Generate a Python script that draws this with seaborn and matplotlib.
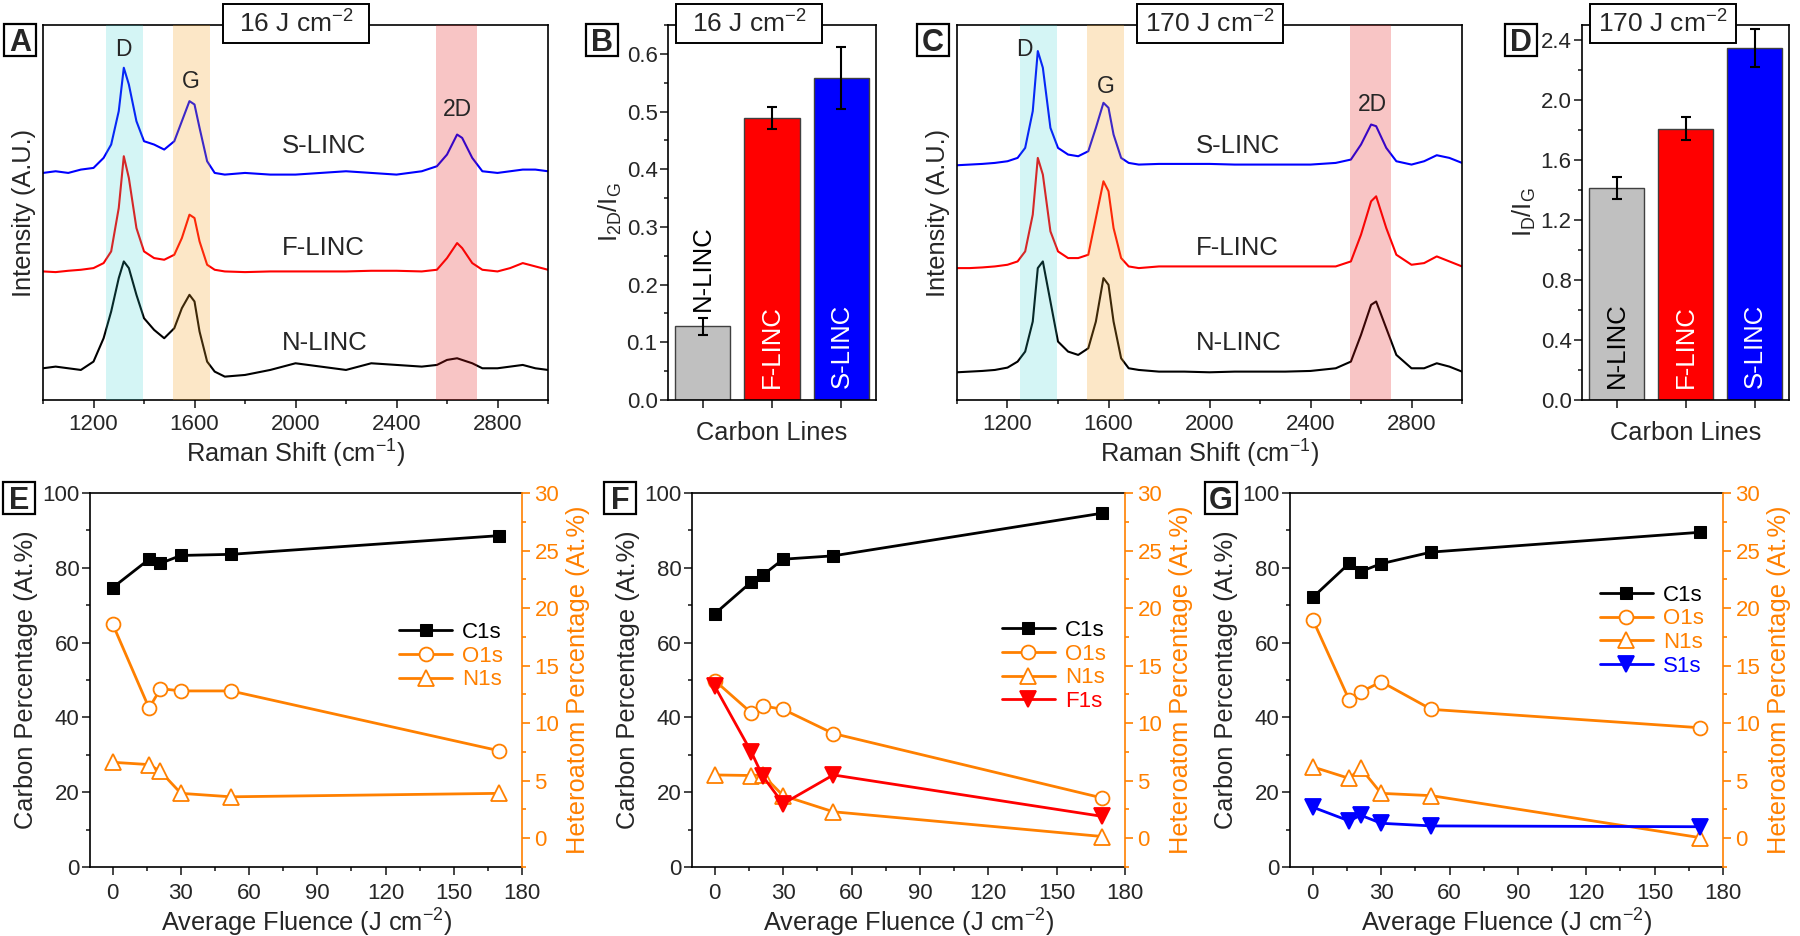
import numpy as np
import pandas as pd
import matplotlib
matplotlib.use('Agg')
import matplotlib.pyplot as plt
import seaborn as sns
from matplotlib.ticker import MultipleLocator
from matplotlib.patches import Rectangle

# Raman spectra (intensity in arbitrary units)
raman_shift = [1000, 1050, 1100, 1150, 1200, 1240, 1270, 1300, 1320, 1340, 1370, 1400, 1440, 1480,
               1520, 1550, 1580, 1600, 1620, 1650, 1680, 1720, 1800, 1900, 2000, 2100, 2200, 2300,
               2400, 2500, 2560, 2600, 2640, 2660, 2700, 2740, 2800, 2850, 2900, 2950, 3000]
a_s_linc = [680, 685, 680, 690, 695, 725, 765, 865, 995, 945, 835, 775, 765, 750, 775, 835, 895, 885,
            815, 715, 680, 675, 680, 675, 675, 680, 685, 680, 675, 685, 700, 735, 795, 785, 725, 685,
            680, 685, 690, 690, 685]
a_f_linc = [385, 383, 387, 390, 395, 410, 445, 575, 730, 665, 515, 445, 425, 420, 435, 485, 555, 545,
            475, 405, 390, 385, 383, 385, 385, 385, 385, 387, 387, 385, 390, 425, 470, 455, 410, 390,
            385, 395, 410, 400, 390]
a_n_linc = [95, 100, 95, 90, 115, 185, 265, 365, 415, 395, 315, 245, 210, 185, 215, 275, 315, 295,
            205, 115, 85, 70, 75, 90, 110, 100, 90, 110, 105, 100, 105, 120, 125, 120, 110, 95,
            95, 100, 105, 95, 90]
c_s_linc = [703, 705, 707, 710, 715, 725, 755, 865, 1045, 995, 815, 755, 735, 730, 745, 815, 890, 875,
            795, 725, 710, 705, 707, 707, 707, 705, 705, 705, 705, 710, 720, 765, 825, 820, 755, 715,
            705, 715, 733, 725, 710]
c_f_linc = [395, 395, 397, 400, 405, 415, 445, 555, 725, 675, 505, 445, 425, 425, 435, 545, 655, 625,
            515, 425, 400, 395, 400, 400, 400, 400, 400, 400, 400, 400, 415, 495, 595, 610, 515, 435,
            405, 410, 430, 415, 400]
c_n_linc = [83, 85, 87, 90, 97, 115, 145, 235, 395, 415, 295, 175, 145, 135, 155, 235, 365, 345,
            235, 125, 95, 90, 85, 85, 83, 85, 85, 85, 87, 95, 115, 195, 285, 295, 215, 135,
            95, 95, 110, 100, 85]
bands = {'D': (1250, 1395), 'G': (1515, 1660), '2D': (2558, 2718)}

# intensity ratios
carbon_lines = ['N-LINC', 'F-LINC', 'S-LINC']
i2d_ig_16 = [0.128, 0.489, 0.558]
i2d_ig_16_err = [0.015, 0.019, 0.054]
id_ig_170 = [1.415, 1.81, 2.345]
id_ig_170_err = [0.075, 0.075, 0.125]

# XPS vs fluence
fluence = [0, 16, 21, 30, 52, 170]
e_c1s = [74.7, 82.3, 81.2, 83.3, 83.6, 88.6]
e_o1s = [18.6, 11.3, 13.0, 12.8, 12.8, 7.6]
e_n1s = [6.6, 6.4, 5.8, 3.9, 3.6, 3.9]
f_c1s = [67.7, 76.2, 78.0, 82.3, 83.2, 94.6]
f_o1s = [13.7, 10.9, 11.5, 11.2, 9.1, 3.5]
f_n1s = [5.5, 5.45, 5.5, 3.7, 2.3, 0.15]
f_f1s = [13.2, 7.5, 5.4, 3.0, 5.5, 1.9]
g_c1s = [72.1, 81.2, 79.0, 81.1, 84.2, 89.5]
g_o1s = [19.0, 12.0, 12.7, 13.6, 11.2, 9.6]
g_n1s = [6.2, 5.2, 6.1, 3.9, 3.7, 0.05]
g_s1s = [2.7, 1.5, 2.0, 1.3, 1.07, 1.0]

ORANGE = '#FF8000'
W, H = 1800, 936

sns.set_theme(style='ticks')
plt.rcParams['font.family'] = ['Liberation Sans', 'DejaVu Sans']
plt.rcParams['mathtext.default'] = 'regular'
plt.rcParams['axes.linewidth'] = 1.2
for k in ['xtick.major.width', 'ytick.major.width', 'xtick.minor.width', 'ytick.minor.width']:
    plt.rcParams[k] = 1.2
plt.rcParams['xtick.major.size'] = 5.5
plt.rcParams['ytick.major.size'] = 5.5
plt.rcParams['xtick.minor.size'] = 3
plt.rcParams['ytick.minor.size'] = 3
plt.rcParams['xtick.labelsize'] = 16
plt.rcParams['ytick.labelsize'] = 16
plt.rcParams['ytick.major.pad'] = 2
plt.rcParams['axes.labelsize'] = 18.3
plt.rcParams['axes.edgecolor'] = 'black'

fig = plt.figure(figsize=(18, 9.36), dpi=100)


def px_axes(left, right, top, bottom):
    return fig.add_axes([left / W, 1 - bottom / H, (right - left) / W, (bottom - top) / H])


def px_box(x0, x1, y0, y1, lw):
    fig.add_artist(Rectangle((x0 / W, 1 - y1 / H), (x1 - x0) / W, (y1 - y0) / H,
                             transform=fig.transFigure, fc='white', ec='black', lw=lw, zorder=5))


def letter(x, y, s):
    px_box(x - 16, x + 16, y - 16, y + 16, 1.6)
    fig.text(x / W, 1 - (y + 11) / H, s, fontsize=22, fontweight='bold', ha='center',
             va='baseline', zorder=6)


def title_box(x, s):
    px_box(x - 73, x + 73, 4, 43, 1.4)
    fig.text(x / W, 1 - 33 / H, s, fontsize=19, ha='center', va='baseline', zorder=6)


def raman_panel(ax, s, f, n, label_pos):
    for vals, col in [(s, 'blue'), (f, 'red'), (n, 'black')]:
        sns.lineplot(x=raman_shift, y=vals, ax=ax, color=col, lw=1.5, errorbar=None)
    ax.axvspan(*bands['D'], color='#28CDCD', alpha=0.2, lw=0, zorder=3)
    ax.axvspan(*bands['G'], color='#F7A323', alpha=0.25, lw=0, zorder=3)
    ax.axvspan(*bands['2D'], color='#E71B1B', alpha=0.25, lw=0, zorder=3)
    for name, (x, y) in label_pos.items():
        ax.text(x, y, name, fontsize=16.5, ha='center', va='center')
    ax.text(1945, 760, 'S-LINC', fontsize=18.5, va='center')
    ax.text(1945, 455, 'F-LINC', fontsize=18.5, va='center')
    ax.text(1945, 170, 'N-LINC', fontsize=18.5, va='center')
    ax.set_xlim(1000, 3000)
    ax.set_ylim(0, 1123)
    ax.xaxis.set_major_locator(MultipleLocator(400))
    ax.xaxis.set_minor_locator(MultipleLocator(200))
    ax.set_yticks([])
    ax.tick_params(axis='x', which='both', direction='out', top=False, pad=4.5)
    ax.set_xlabel('Raman Shift (cm$^{-1}$)', labelpad=2)
    ax.set_ylabel('Intensity (A.U.)', labelpad=5)


def bar_panel(ax, vals, errs, ymax, major, ylabel, text_y):
    sns.barplot(x=carbon_lines, y=vals, hue=carbon_lines, ax=ax, legend=False,
                palette={'N-LINC': '#C0C0C0', 'F-LINC': '#FF0000', 'S-LINC': '#0000FF'},
                edgecolor='#404040', linewidth=1, width=0.8, errorbar=None, saturation=1)
    ax.errorbar(range(3), vals, yerr=errs, fmt='none', ecolor='black', elinewidth=1.5,
                capsize=3.5, capthick=1.5, zorder=5)
    for i, (name, ty) in enumerate(zip(carbon_lines, text_y)):
        col = 'black' if name == 'N-LINC' else 'white'
        ax.text(i, ty, name, rotation=90, ha='center', va='bottom', color=col, fontsize=18.5)
    ax.set_xlim(-0.5, 2.5)
    ax.set_ylim(0, ymax)
    ax.yaxis.set_major_locator(MultipleLocator(major))
    ax.yaxis.set_minor_locator(MultipleLocator(major / 2))
    ax.set_xticks([0, 1, 2])
    ax.set_xticklabels([])
    ax.tick_params(axis='x', which='minor', bottom=False)
    ax.tick_params(axis='both', direction='out')
    ax.set_xlabel('Carbon Lines', labelpad=6)
    ax.set_ylabel(ylabel, labelpad=2)


def xps_panel(ax, c1s, others, anchor):
    sns.lineplot(x=fluence, y=c1s, ax=ax, color='black', lw=2, marker='s', markersize=9,
                 markeredgecolor='black', errorbar=None)
    handles = [ax.lines[-1]]
    labels = ['C1s']
    ax2 = ax.twinx()
    for name, vals, col, mk, ms, face in others:
        sns.lineplot(x=fluence, y=vals, ax=ax2, color=col, lw=2, marker=mk, markersize=ms,
                     markerfacecolor=face, markeredgecolor=col, markeredgewidth=1.3, errorbar=None)
        handles.append(ax2.lines[-1])
        labels.append(name)
    ax.set_xlim(-10, 180)
    ax.set_ylim(0, 100)
    ax2.set_ylim(-2.5, 30)
    ax.xaxis.set_major_locator(MultipleLocator(30))
    ax.xaxis.set_minor_locator(MultipleLocator(15))
    ax.yaxis.set_major_locator(MultipleLocator(20))
    ax.yaxis.set_minor_locator(MultipleLocator(10))
    ax2.yaxis.set_minor_locator(MultipleLocator(2.5))
    ax2.set_yticks([0, 5, 10, 15, 20, 25, 30])
    ax.tick_params(axis='both', which='both', direction='out', top=False, right=False)
    ax.tick_params(axis='x', pad=6)
    ax2.tick_params(axis='y', which='both', direction='out', colors=ORANGE, pad=3.5)
    ax.spines['right'].set_visible(False)
    for sp in ['top', 'left', 'bottom']:
        ax2.spines[sp].set_visible(False)
    ax2.spines['right'].set_color(ORANGE)
    ax2.spines['right'].set_linewidth(1.2)
    ax.set_xlabel('Average Fluence (J cm$^{-2}$)', labelpad=2)
    ax.set_ylabel('Carbon Percentage (At.%)', labelpad=3)
    ax2.set_ylabel('Heteroatom Percentage (At.%)', color=ORANGE, labelpad=5)
    ax2.legend(handles, labels, loc='upper left', bbox_to_anchor=anchor, frameon=False,
               fontsize=16, handlelength=2.4, handletextpad=0.45, labelspacing=0.12,
               borderpad=0, borderaxespad=0, labelcolor='linecolor')


# Raman spectra
ax_a = px_axes(43, 548, 25, 400)
raman_panel(ax_a, a_s_linc, a_f_linc, a_n_linc, {'D': (1320, 1050), 'G': (1585, 955), '2D': (2640, 870)})
ax_c = px_axes(957, 1462, 25, 400)
raman_panel(ax_c, c_s_linc, c_f_linc, c_n_linc, {'D': (1266, 1050), 'G': (1588, 940), '2D': (2645, 885)})

# ratio bars
ax_b = px_axes(668, 876, 25, 400)
bar_panel(ax_b, i2d_ig_16, i2d_ig_16_err, 0.65, 0.1, 'I$_{2D}$/I$_G$', [0.155, 0.02, 0.02])
ax_d = px_axes(1582, 1789, 25, 400)
bar_panel(ax_d, id_ig_170, id_ig_170_err, 2.5, 0.4, 'I$_D$/I$_G$', [0.08, 0.08, 0.08])

# XPS composition
ax_e = px_axes(90, 522, 493, 867)
xps_panel(ax_e, e_c1s, [('O1s', e_o1s, ORANGE, 'o', 10, 'white'),
                        ('N1s', e_n1s, ORANGE, '^', 11, 'white')], (0.715, 0.655))
ax_f = px_axes(692, 1125, 493, 867)
xps_panel(ax_f, f_c1s, [('O1s', f_o1s, ORANGE, 'o', 10, 'white'),
                        ('N1s', f_n1s, ORANGE, '^', 11, 'white'),
                        ('F1s', f_f1s, '#FF0000', 'v', 11, '#FF0000')], (0.715, 0.66))
ax_g = px_axes(1290, 1723, 493, 867)
xps_panel(ax_g, g_c1s, [('O1s', g_o1s, ORANGE, 'o', 10, 'white'),
                        ('N1s', g_n1s, ORANGE, '^', 11, 'white'),
                        ('S1s', g_s1s, '#0000FF', 'v', 11, '#0000FF')], (0.715, 0.755))

title_box(296, '16 J cm$^{-2}$')
title_box(749, '16 J cm$^{-2}$')
title_box(1210, '170 J cm$^{-2}$')
title_box(1663, '170 J cm$^{-2}$')

for x, y, s in [(20, 40, 'A'), (602, 40, 'B'), (933, 40, 'C'), (1521, 40, 'D'),
                (19, 498, 'E'), (620, 498, 'F'), (1221, 498, 'G')]:
    letter(x, y, s)

fig.savefig('out.png', dpi=100)
